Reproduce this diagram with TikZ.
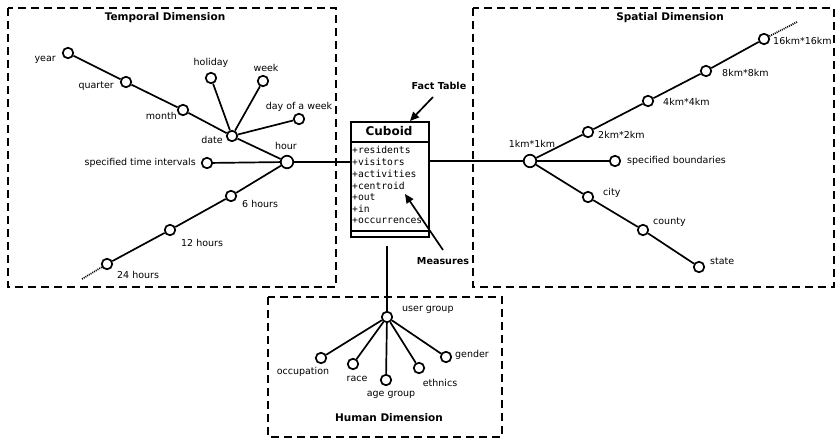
\documentclass[tikz,border=0pt]{standalone}
\usepackage{fontspec}
\setmainfont{DejaVu Sans}
\setmonofont{DejaVu Sans Mono}
\usetikzlibrary{arrows.meta}
\begin{document}
\begin{tikzpicture}[x=1pt,y=-1pt,
  dot/.style={circle,draw,line width=1.7pt,fill=white,minimum size=10.5pt,inner sep=0pt},
  bigdot/.style={dot,minimum size=12.5pt},
  lbl/.style={font=\fontsize{9.5}{10}\selectfont,inner sep=0pt},
  ttl/.style={font=\bfseries\fontsize{10.5}{11}\selectfont,inner sep=0pt},
  ptl/.style={font=\bfseries\fontsize{9.6}{10}\selectfont,inner sep=0pt},
  edge/.style={line width=1.7pt},
  dotedge/.style={line width=1.7pt,dash pattern=on 1pt off 1pt},
  dimbox/.style={draw,line width=1.7pt,dash pattern=on 8pt off 5pt},
  attr/.style={font=\ttfamily\fontsize{9.7}{10}\selectfont,inner sep=0pt,anchor=west},
  ptr/.style={line width=1.7pt,-{Triangle[length=9pt,width=8pt]}}
]
\useasboundingbox (0,0) rectangle (837,438);
% dimension frames
\draw[dimbox] (8,8) rectangle (336,287);
\draw[dimbox] (473,8) rectangle (834,287);
\draw[dimbox] (268,297) rectangle (502,437);
\node[ttl] (ttemp) at (165,18) {Temporal Dimension};
\node[ttl] (tspat) at (670,18) {Spatial Dimension};
\node[ttl] (thum) at (389,418) {Human Dimension};

% temporal nodes
\node[dot] (year) at (68,53) {};
\node[dot] (quarter) at (126,82) {};
\node[dot] (month) at (183,110) {};
\node[dot] (date) at (232,136) {};
\node[dot] (holiday) at (211,78) {};
\node[dot] (week) at (263,81) {};
\node[dot] (dow) at (299,119) {};
\node[bigdot] (hour) at (287,162) {};
\node[dot] (sti) at (207,163) {};
\node[dot] (h6) at (231,196) {};
\node[dot] (h12) at (170,230) {};
\node[dot] (h24) at (107,264) {};
\coordinate (h24end) at (82,279);

\node[lbl,anchor=east] at (56,60) {year};
\node[lbl,anchor=east] at (114,86) {quarter};
\node[lbl,anchor=east] at (177,116) {month};
\node[lbl,anchor=east] at (223,140) {date};
\node[lbl] at (211,63) {holiday};
\node[lbl] at (266,68) {week};
\node[lbl] at (299,107) {day of a week};
\node[lbl] at (286,146) {hour};
\node[lbl,anchor=east] at (196,163) {specified time intervals};
\node[lbl,anchor=west] at (242,204) {6 hours};
\node[lbl,anchor=west] at (181,243) {12 hours};
\node[lbl,anchor=west] at (117,275) {24 hours};

\draw[edge] (year) -- (quarter) -- (month) -- (date) -- (hour);
\draw[edge] (date) -- (holiday);
\draw[edge] (date) -- (week);
\draw[edge] (date) -- (dow);
\draw[edge] (hour) -- (sti);
\draw[edge] (hour) -- (h6) -- (h12) -- (h24);
\draw[dotedge] (h24) -- (h24end);

% cuboid
\node[draw,fill=white,line width=1.9pt,minimum width=78pt,minimum height=115pt,inner sep=0pt,anchor=north west] (cuboid) at (350,121) {};
\draw[line width=1.5pt] ([yshift=-21pt]cuboid.north west) -- ([yshift=-21pt]cuboid.north east);
\draw[line width=1.5pt] ([yshift=7pt]cuboid.south west) -- ([yshift=7pt]cuboid.south east);
\node[font=\bfseries\fontsize{12}{13}\selectfont,inner sep=0pt] (ctitle) at (389,131.5) {Cuboid};
\node[attr] (a1) at (352,150) {+residents};
\node[attr] (a2) at (352,161.8) {+visitors};
\node[attr] (a3) at (352,173.6) {+activities};
\node[attr] (a4) at (352,185.4) {+centroid};
\node[attr] (a5) at (352,197.2) {+out};
\node[attr] (a6) at (352,209) {+in};
\node[attr] (a7) at (352,220.8) {+occurrences};

\node[ptl] (ftl) at (439,86) {Fact Table};
\coordinate (fttail) at (433,97);
\coordinate (fthead) at (410,121);
\draw[ptr] (fttail) -- (fthead);
\node[ptl] (msl) at (443,261) {Measures};
\coordinate (mstail) at (443,250);
\coordinate (mshead) at (405,194);
\draw[ptr] (mstail) -- (mshead);

\draw[edge] (hour) -- (hour -| cuboid.west);

% spatial nodes
\node[bigdot] (km1) at (530,161) {};
\node[dot] (km2) at (588,132) {};
\node[dot] (km4) at (648,101) {};
\node[dot] (km8) at (706,71) {};
\node[dot] (km16) at (764,39) {};
\coordinate (km16end) at (797,22);
\node[dot] (sb) at (615,161) {};
\node[dot] (city) at (588,197) {};
\node[dot] (county) at (643,230) {};
\node[dot] (state) at (699,267) {};

\node[lbl] at (532,144) {1km*1km};
\node[lbl,anchor=west] at (598,135) {2km*2km};
\node[lbl,anchor=west] at (663,102) {4km*4km};
\node[lbl,anchor=west] at (722,73) {8km*8km};
\node[lbl,anchor=west] at (773,41) {16km*16km};
\node[lbl,anchor=west] at (627,161) {specified boundaries};
\node[lbl,anchor=west] at (603,193) {city};
\node[lbl,anchor=west] at (653,222) {county};
\node[lbl,anchor=west] at (710,261) {state};

\draw[edge] (cuboid.east |- km1) -- (km1);
\draw[edge] (km1) -- (km2) -- (km4) -- (km8) -- (km16);
\draw[dotedge] (km16) -- (km16end);
\draw[edge] (km1) -- (sb);
\draw[edge] (km1) -- (city) -- (county) -- (state);

% human nodes
\node[dot] (ug) at (387,317) {};
\coordinate (ugtop) at (387,246);
\node[dot] (occ) at (321,358) {};
\node[dot] (race) at (353,364) {};
\node[dot] (age) at (386,380) {};
\node[dot] (eth) at (419,368) {};
\node[dot] (gen) at (446,357) {};

\node[lbl,anchor=west] at (402,310) {user group};
\node[lbl] at (303,372) {occupation};
\node[lbl] at (357,379) {race};
\node[lbl] at (391,395) {age group};
\node[lbl] at (440,383) {ethnics};
\node[lbl,anchor=west] at (455,355) {gender};

\draw[edge] (ugtop) -- (ug);
\draw[edge] (ug) -- (occ);
\draw[edge] (ug) -- (race);
\draw[edge] (ug) -- (age);
\draw[edge] (ug) -- (eth);
\draw[edge] (ug) -- (gen);
\end{tikzpicture}
\end{document}
